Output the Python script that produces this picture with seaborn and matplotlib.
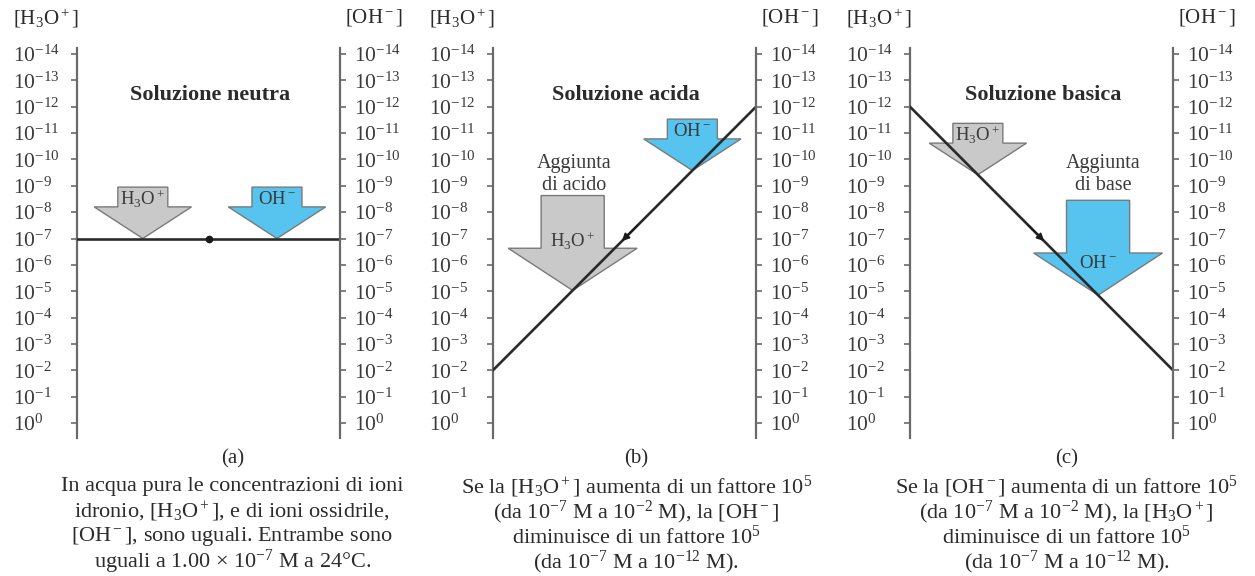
import numpy as np
import matplotlib
matplotlib.use("Agg")
import matplotlib.pyplot as plt
from matplotlib.patches import Polygon
from matplotlib.ticker import FixedLocator, FuncFormatter, NullLocator
import seaborn as sns

sns.set_style("white")
plt.rcParams['font.family'] = ['Liberation Serif', 'DejaVu Serif']
plt.rcParams['mathtext.fontset'] = 'custom'
plt.rcParams['mathtext.rm'] = 'Liberation Serif'
plt.rcParams['mathtext.it'] = 'Liberation Serif:italic'
plt.rcParams['mathtext.bf'] = 'Liberation Serif:bold'

# --- Dati ---
etichette = ['(a)', '(b)', '(c)']
titoli = ['Soluzione neutra', 'Soluzione acida', 'Soluzione basica']
esp_h3o = [-7, -2, -12]
esp_oh = [-7, -12, -2]
esponenti_tick = list(range(0, -15, -1))
aggiunte = [None, 'Aggiunta\ndi acido', 'Aggiunta\ndi base']

didascalie = [
    ['In acqua pura le concentrazioni di ioni',
     'idronio, [H$_3$O$^+$], e di ioni ossidrile,',
     '[OH$^-$], sono uguali. Entrambe sono',
     'uguali a 1.00 × 10$^{-7}$ M a 24°C.'],
    ['Se la [H$_3$O$^+$] aumenta di un fattore 10$^5$',
     '(da 10$^{-7}$ M a 10$^{-2}$ M), la [OH$^-$]',
     'diminuisce di un fattore 10$^5$',
     '(da 10$^{-7}$ M a 10$^{-12}$ M).'],
    ['Se la [OH$^-$] aumenta di un fattore 10$^5$',
     '(da 10$^{-7}$ M a 10$^{-2}$ M), la [H$_3$O$^+$]',
     'diminuisce di un fattore 10$^5$',
     '(da 10$^{-7}$ M a 10$^{-12}$ M).'],
]

# frecce: (posizione x sulla retta, ione, grande?)
frecce = [
    [(0.25, 'H$_3$O$^+$', False), (0.76, 'OH$^-$', False)],
    [(0.303, 'H$_3$O$^+$', True), (0.758, 'OH$^-$', False)],
    [(0.258, 'H$_3$O$^+$', False), (0.715, 'OH$^-$', True)],
]

GRIGIO = '#c9c9c9'
AZZURRO = '#56c4ee'
TESTO = '#2b2b2b'
ASSE = '#6a6a6a'


def retta(i, x):
    return esp_h3o[i] + (esp_oh[i] - esp_h3o[i]) * x


def freccia(ax, x, e_tip, colore, testo, grande):
    if grande:
        hh, sh, hw, sw, dt = 1.6, 2.0, 0.49, 0.24, -0.25
    else:
        hh, sh, hw, sw, dt = 1.2, 0.75, 0.37, 0.19, -0.28
    e_b = e_tip - hh
    e_t = e_b - sh
    pts = [(x, e_tip), (x - hw / 2, e_b), (x - sw / 2, e_b), (x - sw / 2, e_t),
           (x + sw / 2, e_t), (x + sw / 2, e_b), (x + hw / 2, e_b)]
    pts = [(px, 10.0 ** pe) for px, pe in pts]
    ax.add_patch(Polygon(pts, closed=True, facecolor=colore, edgecolor='#7a7a7a',
                         lw=1.0, zorder=2, clip_on=False))
    if grande and colore == AZZURRO:
        dt = 0.38
    ax.text(x, 10.0 ** (e_b + dt), testo, ha='center', va='center',
            fontsize=13.5, color='#3a3a3a', zorder=3)


fig = plt.figure(figsize=(12.55, 5.76), dpi=100)
lefts = [0.0614, 0.3928, 0.7251]
cap_x = [0.59, 0.545, 0.595]

for i in range(3):
    ax = fig.add_axes([lefts[i], 0.2396, 0.2096, 0.6771])
    ax.set_yscale('log')
    ax.set_xlim(0, 1)
    ax.set_ylim(10 ** 0.57, 10 ** -14.23)
    ax.set_xticks([])

    sns.lineplot(x=[0, 1], y=[10.0 ** esp_h3o[i], 10.0 ** esp_oh[i]], ax=ax,
                 color='#2a2a2a', lw=1.9, zorder=4)

    if esp_h3o[i] == esp_oh[i]:
        ax.plot([0.5], [10.0 ** esp_h3o[i]], 'o', ms=4.5, color='#1a1a1a', zorder=5)
    else:
        d = 0.01 if esp_oh[i] > esp_h3o[i] else -0.01
        x1 = 0.5 + d
        x0 = x1 - 6 * d
        ax.annotate('', xy=(x1, 10.0 ** retta(i, x1)), xytext=(x0, 10.0 ** retta(i, x0)),
                    arrowprops=dict(arrowstyle='-|>', color='#1a1a1a', lw=1.2,
                                    mutation_scale=11, shrinkA=0, shrinkB=0), zorder=5)

    for x, ione, grande in frecce[i]:
        colore = GRIGIO if ione.startswith('H') else AZZURRO
        freccia(ax, x, retta(i, x), colore, ione, grande)

    ax.text(0.505, 10 ** -12.45, titoli[i], ha='center', va='center',
            fontsize=16, fontweight='bold', color=TESTO)
    if aggiunte[i]:
        xa = 0.31 if i == 1 else 0.734
        ax.text(xa, 10 ** -9.43, aggiunte[i], ha='center', va='center',
                fontsize=14.5, color='#3a3a3a', linespacing=1.2)

    fmt = FuncFormatter(lambda v, pos: r'$10^{%d}$' % int(round(np.log10(v))))
    ticks = [10.0 ** e for e in esponenti_tick]

    for s in ['top', 'bottom', 'right']:
        ax.spines[s].set_visible(False)
    ax.spines['left'].set_color(ASSE)
    ax.spines['left'].set_linewidth(1.6)
    ax.yaxis.set_major_locator(FixedLocator(ticks))
    ax.yaxis.set_minor_locator(NullLocator())
    ax.yaxis.set_major_formatter(fmt)
    ax.tick_params(axis='y', which='major', direction='out', length=4, width=1.2,
                   color=ASSE, labelsize=15.5, labelcolor='#3a3a3a', pad=42, left=True)
    for lab in ax.get_yticklabels():
        lab.set_horizontalalignment('left')

    tw = ax.twinx()
    tw.set_yscale('log')
    tw.set_ylim(ax.get_ylim())
    for s in ['top', 'bottom', 'left']:
        tw.spines[s].set_visible(False)
    tw.spines['right'].set_color(ASSE)
    tw.spines['right'].set_linewidth(1.6)
    tw.yaxis.set_major_locator(FixedLocator(ticks))
    tw.yaxis.set_minor_locator(NullLocator())
    tw.yaxis.set_major_formatter(fmt)
    tw.tick_params(axis='y', which='major', direction='out', length=4, width=1.2,
                   color=ASSE, labelsize=15.5, labelcolor='#3a3a3a', pad=6, right=True)

    ax.text(0.005, 1.077, '[H$_3$O$^+$]', transform=ax.transAxes, ha='right',
            va='center', fontsize=15, color=TESTO)
    ax.text(1.02, 1.077, '[OH$^-$]', transform=ax.transAxes, ha='left',
            va='center', fontsize=15, color=TESTO)

    ax.text(cap_x[i], -0.054, etichette[i], transform=ax.transAxes, ha='center',
            va='center', fontsize=15, color=TESTO)
    for k, riga in enumerate(didascalie[i]):
        ax.text(cap_x[i], -(487 - 438 + 25 * k) / 390, riga, transform=ax.transAxes,
                ha='center', va='center', fontsize=16, color=TESTO)

fig.savefig('out.png', dpi=100)
